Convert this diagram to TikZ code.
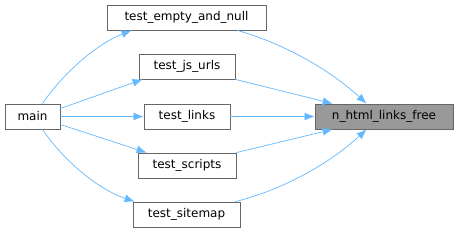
\documentclass[tikz,border=0pt]{standalone}
\usepackage{fontspec}
\setmainfont{DejaVu Sans}
\usetikzlibrary{arrows.meta}
\definecolor{edgeblue}{HTML}{63B8FF}
\definecolor{boxgray}{HTML}{666666}
\definecolor{hlgray}{HTML}{999999}
\tikzset{
  fn/.style = {draw=boxgray, fill=white, line width=0.8pt, inner sep=0pt,
    minimum height=25pt, font=\fontsize{12}{14}\selectfont},
  hl/.style = {fn, fill=hlgray},
  call/.style = {draw=edgeblue, line width=0.7pt, -{Latex[length=10pt,width=8pt]}}
}
\begin{document}
\begin{tikzpicture}[x=1pt,y=-1pt]
%% Frame %%
\useasboundingbox (0,0) rectangle (459,233);

%% Functions %%
\node[fn, minimum width=55pt]  (main)  at (32.5,116.5) {main};
\node[fn, minimum width=159pt] (empty) at (186.5,17.5) {test\_empty\_and\_null};
\node[fn, minimum width=96pt]  (js)    at (187,66.5)   {test\_js\_urls};
\node[fn, minimum width=86pt]  (links) at (187,116.5)  {test\_links};
\node[fn, minimum width=98pt]  (scripts) at (187,165.5) {test\_scripts};
\node[fn, minimum width=107pt] (sitemap) at (186.5,214.5) {test\_sitemap};
\node[hl, minimum width=138pt] (free)  at (384,116.5)  {n\_html\_links\_free};

%% Calls from main %%
\draw[call] ([xshift=10pt]main.north) .. controls (58,80) and (92,46) .. ([xshift=-55pt]empty.south);
\draw[call] ([yshift=8pt]main.east) -- ([xshift=4pt]js.south west);
\draw[call] (main) -- (links);
\draw[call] ([yshift=-8pt]main.east) -- ([xshift=9pt]scripts.north west);
\draw[call] ([xshift=10pt]main.south) .. controls (58,153) and (92,187) .. ([xshift=2pt]sitemap.north west);

%% Calls to n_html_links_free %%
\draw[call] ([xshift=-29pt]empty.south east) .. controls (285,44) and (330,70) .. ([xshift=52pt]free.north west);
\draw[call] (js.south east) -- ([xshift=18pt]free.north west);
\draw[call] (links) -- (free);
\draw[call] (scripts.north east) -- ([xshift=18pt]free.south west);
\draw[call] ([xshift=-5pt]sitemap.north east) .. controls (285,189) and (330,163) .. ([xshift=52pt]free.south west);

\end{tikzpicture}
\end{document}
